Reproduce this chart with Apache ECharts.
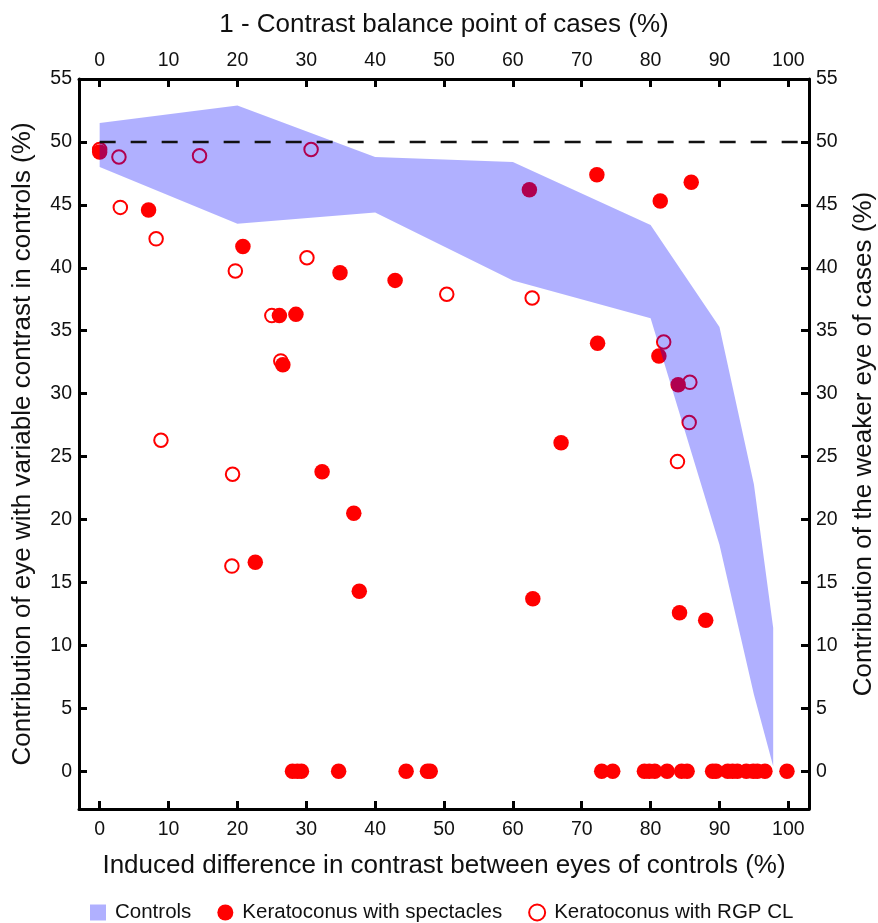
<!DOCTYPE html>
<html>
<head>
<meta charset="utf-8">
<script src="https://cdn.jsdelivr.net/npm/echarts@6/dist/echarts.min.js"></script>
<style>
html,body{margin:0;padding:0;background:#fff;}
#chart{width:878px;height:923px;}
</style>
</head>
<body>
<div id="chart"></div>
<script>
// ---- data ----
const xTicks = [0, 10, 20, 30, 40, 50, 60, 70, 80, 90, 100];
const yTicks = [0, 5, 10, 15, 20, 25, 30, 35, 40, 45, 50, 55];

// Controls band (min / max)
const bandX    = [0, 20, 40, 60, 80, 90, 95, 97.8];
const bandLow  = [48.0, 43.5, 44.4, 39.0, 36.0, 18.0, 6.1, 0.4];
const bandHigh = [51.5, 52.9, 48.8, 48.4, 43.4, 35.3, 22.8, 11.4];

// Keratoconus with spectacles (filled)
const specX = [0, 7.1, 20.8, 34.9, 42.9, 26.1, 28.5, 26.6, 32.3, 36.9, 22.6, 37.7,
  62.4, 72.2, 81.4, 85.9, 72.3, 81.2, 84.0, 67.0, 62.9, 84.2, 88.0,
  28.0, 28.7, 29.3, 34.7, 44.5, 47.6, 48.0, 72.9, 74.5, 79.1, 79.8, 80.6, 82.4,
  84.5, 85.3, 89.0, 89.5, 91.2, 91.9, 92.6, 93.9, 94.9, 95.5, 96.6, 99.8];
const specY = [49.2, 44.6, 41.7, 39.6, 39.0, 36.2, 36.3, 32.3, 23.8, 20.5, 16.6, 14.3,
  46.2, 47.4, 45.3, 46.8, 34.0, 33.0, 30.7, 26.1, 13.7, 12.6, 12.0,
  0, 0, 0, 0, 0, 0, 0, 0, 0, 0, 0, 0, 0,
  0, 0, 0, 0, 0, 0, 0, 0, 0, 0, 0, 0];

// Keratoconus with RGP CL (open)
const rgpX = [0, 2.8, 14.5, 30.7, 3.0, 8.2, 19.7, 30.1, 25.0, 26.3, 8.9, 19.3, 19.2,
  50.4, 62.8, 81.9, 85.7, 85.6, 83.9];
const rgpY = [49.4, 48.8, 48.9, 49.4, 44.8, 42.3, 39.75, 40.8, 36.2, 32.6, 26.3, 23.6, 16.3,
  37.9, 37.6, 34.1, 30.9, 27.7, 24.6];

const refLineY = 50;

const names = {
  controls: 'Controls',
  spec: 'Keratoconus with spectacles',
  rgp: 'Keratoconus with RGP CL',
  xBottom: 'Induced difference in contrast between eyes of controls (%)',
  xTop: '1 - Contrast balance point of cases (%)',
  yLeft: 'Contribution of eye with variable contrast in controls (%)',
  yRight: 'Contribution of the weaker eye of cases (%)'
};

// ---- chart ----
const FONT = 'Liberation Sans, Arial, Helvetica, sans-serif';
const TXT = '#111';
const bandColor = 'rgba(0,0,255,0.31)';

function xAxisCfg(pos, name, gap, margin) {
  return {
    type: 'value', position: pos, min: -3, max: 103,
    name: name, nameLocation: 'middle', nameGap: gap,
    nameTextStyle: {fontSize: 26, color: TXT, fontFamily: FONT},
    axisLine: {show: true, onZero: false, lineStyle: {color: '#000', width: 3}},
    axisTick: {show: true, inside: true, length: 8, customValues: xTicks, lineStyle: {color: '#000', width: 3}},
    axisLabel: {show: true, customValues: xTicks, fontSize: 19.5, margin: margin, color: TXT, fontFamily: FONT},
    splitLine: {show: false}
  };
}
function yAxisCfg(pos, name, gap) {
  return {
    type: 'value', position: pos, min: -3, max: 55,
    name: name, nameLocation: 'middle', nameGap: gap, nameRotate: 90,
    nameTextStyle: {fontSize: 26, color: TXT, fontFamily: FONT},
    axisLine: {show: true, onZero: false, lineStyle: {color: '#000', width: 3}},
    axisTick: {show: true, inside: true, length: 8, customValues: yTicks, lineStyle: {color: '#000', width: 3}},
    axisLabel: {show: true, customValues: yTicks, fontSize: 19.5, margin: 7, color: TXT, fontFamily: FONT},
    splitLine: {show: false}
  };
}

const chart = echarts.init(document.getElementById('chart'), null, {renderer: 'canvas'});

const option = {
  animation: false,
  backgroundColor: '#fff',
  textStyle: {fontFamily: FONT},
  grid: {left: 79, right: 69, top: 79, bottom: 114, containLabel: false, outerBoundsMode: 'none'},
  legend: {
    left: 90, top: 902, padding: 0,
    itemWidth: 16, itemHeight: 16, itemGap: 26,
    textStyle: {fontSize: 20.5, color: TXT, fontFamily: FONT, padding: [0, 0, 0, 4]},
    data: [
      {name: names.controls, icon: 'rect'},
      {name: names.spec, icon: 'circle'},
      {name: names.rgp, icon: 'circle'}
    ]
  },
  xAxis: [
    xAxisCfg('bottom', names.xBottom, 44, 11),
    xAxisCfg('top', names.xTop, 41, 8)
  ],
  yAxis: [
    yAxisCfg('left', names.yLeft, 43),
    yAxisCfg('right', names.yRight, 42)
  ],
  series: [
    {
      name: names.spec, type: 'scatter', xAxisIndex: 0, yAxisIndex: 0, z: 2,
      symbol: 'circle', symbolSize: 15.5,
      itemStyle: {color: '#ff0000', opacity: 1},
      data: specX.map((x, i) => [x, specY[i]])
    },
    {
      name: names.rgp, type: 'scatter', xAxisIndex: 0, yAxisIndex: 0, z: 2,
      symbol: 'circle', symbolSize: 13.5,
      itemStyle: {color: 'rgba(255,255,255,0)', borderColor: '#ff0000', borderWidth: 2, opacity: 1},
      data: rgpX.map((x, i) => [x, rgpY[i]])
    },
    {
      name: names.controls, type: 'custom', xAxisIndex: 0, yAxisIndex: 0, z: 3,
      itemStyle: {color: bandColor},
      data: bandX.map((x, i) => [x, bandLow[i], bandHigh[i]]),
      encode: {x: 0, y: [1, 2]},
      renderItem: function (params, api) {
        if (params.dataIndex !== 0) return null;
        const pts = [];
        for (let i = 0; i < bandX.length; i++) pts.push(api.coord([bandX[i], bandHigh[i]]));
        for (let i = bandX.length - 1; i >= 0; i--) pts.push(api.coord([bandX[i], bandLow[i]]));
        return {type: 'polygon', shape: {points: pts}, style: {fill: bandColor}};
      }
    },
    {
      type: 'line', xAxisIndex: 0, yAxisIndex: 0, z: 4,
      symbol: 'none', silent: true,
      lineStyle: {color: '#111', width: 2.5, type: [16, 15]},
      data: [[0, refLineY], [103, refLineY]]
    }
  ]
};
chart.setOption(option);
</script>
</body>
</html>
